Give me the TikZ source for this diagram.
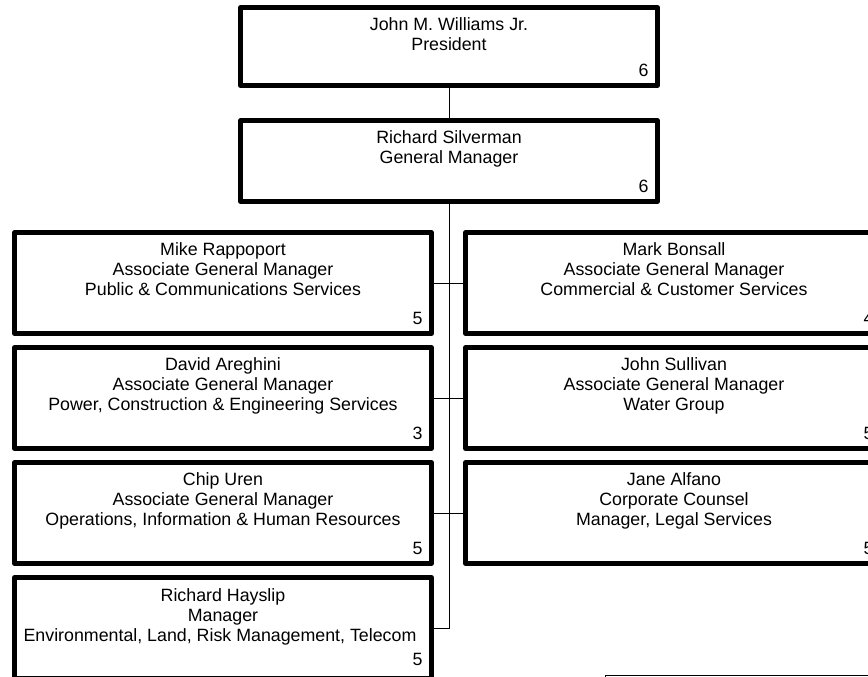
\documentclass[tikz,border=0pt]{standalone}
\usepackage{fontspec}
\setmainfont{Liberation Sans}
\usetikzlibrary{positioning}

\begin{document}
\begin{tikzpicture}[x=1pt,y=-1pt,
  orgbox/.style={draw,line width=4.5pt,line join=round,inner sep=0pt,
    minimum width=417pt,minimum height=101pt},
  orgtext/.style={anchor=north,align=center,inner sep=0pt,
    font=\fontsize{17.8}{20}\selectfont,yshift=-12.2pt},
  orgnum/.style={anchor=base east,inner sep=0pt,
    font=\fontsize{17.8}{20}\selectfont,xshift=-11pt,yshift=11pt},
  link/.style={line width=1pt}]
  \def\xl{223};  
  \def\xr{674};  
  \def\xm{449};  
  \useasboundingbox (0,0) rectangle (868,677);
  \clip (0,0) rectangle (868,677);
  % top of the chart
  \node[orgbox,minimum height=78pt] (pres) at (\xm,46.5) {};
  \node[orgtext] (pres-txt) at (pres.north) {John M. Williams Jr.\\President};
  \node[orgnum] (pres-num) at (pres.south east) {6};
  \node[orgbox,minimum height=81pt] (gm) at (\xm,161) {};
  \node[orgtext] (gm-txt) at (gm.north) {Richard Silverman\\General Manager};
  \node[orgnum] (gm-num) at (gm.south east) {6};
  % left column
  \node[orgbox] (mike) at (\xl,283) {};
  \node[orgtext] (mike-txt) at (mike.north) {Mike Rappoport\\Associate General Manager\\Public \& Communications Services};
  \node[orgnum] (mike-num) at (mike.south east) {5};
  \node[orgbox] (david) at (\xl,398) {};
  \node[orgtext] (david-txt) at (david.north) {David Areghini\\Associate General Manager\\Power, Construction \& Engineering Services};
  \node[orgnum] (david-num) at (david.south east) {3};
  \node[orgbox] (chip) at (\xl,513) {};
  \node[orgtext] (chip-txt) at (chip.north) {Chip Uren\\Associate General Manager\\Operations, Information \& Human Resources};
  \node[orgnum] (chip-num) at (chip.south east) {5};
  \node[orgbox] (hays) at (\xl,628) {};
  \node[orgtext,yshift=-1pt] (hays-txt) at (hays.north) {Richard Hayslip\\Manager\\Environmental, Land, Risk Management, Telecom\hspace*{6pt}};
  \node[orgnum,yshift=4pt] (hays-num) at (hays.south east) {5};
  % right column
  \node[orgbox] (mark) at (\xr,283) {};
  \node[orgtext] (mark-txt) at (mark.north) {Mark Bonsall\\Associate General Manager\\Commercial \& Customer Services};
  \node[orgnum] (mark-num) at (mark.south east) {4};
  \node[orgbox] (john) at (\xr,398) {};
  \node[orgtext] (john-txt) at (john.north) {John Sullivan\\Associate General Manager\\Water Group};
  \node[orgnum] (john-num) at (john.south east) {5};
  \node[orgbox] (jane) at (\xr,513) {};
  \node[orgtext] (jane-txt) at (jane.north) {Jane Alfano\\Corporate Counsel\\Manager, Legal Services};
  \node[orgnum] (jane-num) at (jane.south east) {5};
  \node[draw,line width=1pt,inner sep=0pt,anchor=north west,
    minimum width=300pt,minimum height=60pt] (note) at (605,675) {};
  %links
  \draw[link] (pres) -- (gm);
  \draw[link] (gm.south) |- (hays.east);
  \draw[link] (mike) -- (mark);
  \draw[link] (david) -- (john);
  \draw[link] (chip) -- (jane);
\end{tikzpicture}
\end{document}
